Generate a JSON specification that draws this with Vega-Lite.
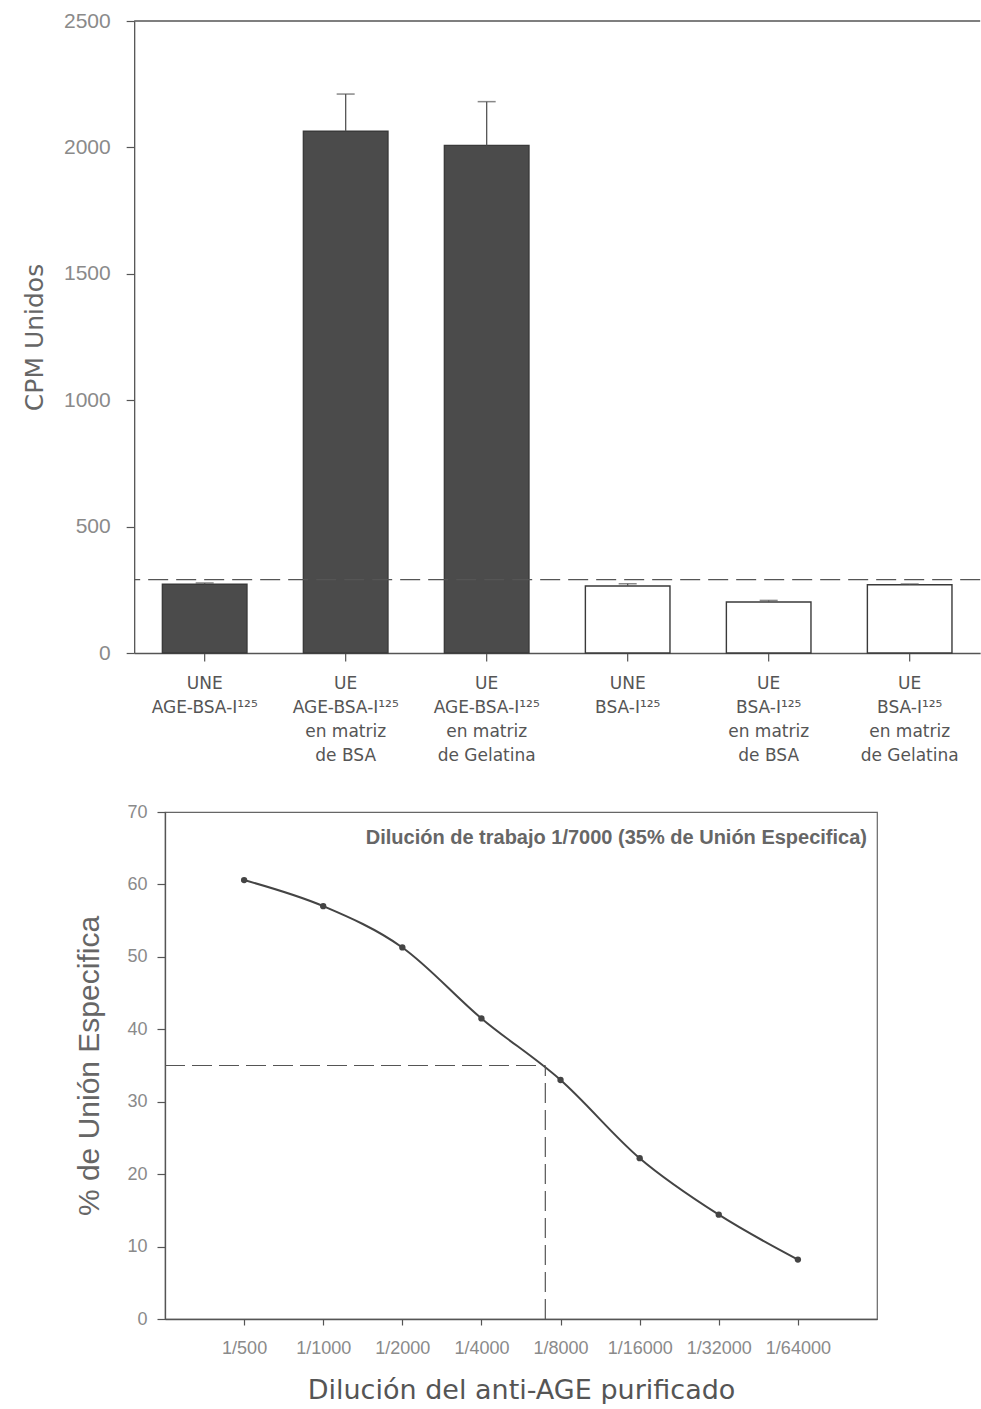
{
  "$schema": "https://vega.github.io/schema/vega-lite/v6.json",
  "background": "white",
  "padding": {"left": 22, "top": 10, "right": 0, "bottom": 0},
  "spacing": 39,
  "center": true,
  "config": {
    "font": "Liberation Sans",
    "view": {"stroke": null},
    "axis": {"grid": false, "domainColor": "#555", "tickColor": "#555", "domainWidth": 1.3, "tickWidth": 1.2}
  },
  "datasets": {
    "cpm": [
      {"grupo": "UNE|AGE-BSA-I¹²⁵", "tipo": "AGE-BSA", "cpm": 272, "cpm_sup": 277},
      {"grupo": "UE|AGE-BSA-I¹²⁵|en matriz|de BSA", "tipo": "AGE-BSA", "cpm": 2064, "cpm_sup": 2211},
      {"grupo": "UE|AGE-BSA-I¹²⁵|en matriz|de Gelatina", "tipo": "AGE-BSA", "cpm": 2008, "cpm_sup": 2181},
      {"grupo": "UNE|BSA-I¹²⁵", "tipo": "BSA", "cpm": 265, "cpm_sup": 274},
      {"grupo": "UE|BSA-I¹²⁵|en matriz|de BSA", "tipo": "BSA", "cpm": 202, "cpm_sup": 208},
      {"grupo": "UE|BSA-I¹²⁵|en matriz|de Gelatina", "tipo": "BSA", "cpm": 270, "cpm_sup": 273}
    ],
    "fondo": [{"cpm": 290}],
    "dilucion": [
      {"dil": 500, "pct": 60.6},
      {"dil": 1000, "pct": 57.0},
      {"dil": 2000, "pct": 51.3},
      {"dil": 4000, "pct": 41.5},
      {"dil": 8000, "pct": 33.0},
      {"dil": 16000, "pct": 22.2},
      {"dil": 32000, "pct": 14.4},
      {"dil": 64000, "pct": 8.2}
    ],
    "trabajo": [{"dil": 7000, "pct": 35, "desde": 250, "base": 0, "texto": "Dilución de trabajo 1/7000 (35% de Unión Especifica)"}],
    "vacio": [{"v": 0}]
  },
  "vconcat": [
    {
      "width": 846,
      "height": 632,
      "layer": [
        {
          "data": {"name": "cpm"},
          "mark": {"type": "bar", "stroke": "#3a3a3a", "strokeWidth": 1.4},
          "encoding": {
            "x": {
              "field": "grupo", "type": "nominal", "sort": null,
              "scale": {"paddingInner": 0.4, "paddingOuter": 0.2},
              "axis": {
                "title": null, "labelAngle": 0, "labelAlign": "center", "labelBaseline": "top",
                "labelExpr": "split(datum.label, '|')", "labelLineHeight": 24,
                "labelFont": "DejaVu Sans", "labelFontSize": 17, "labelColor": "#555",
                "labelPadding": 14, "tickSize": 8, "labelLimit": 0
              }
            },
            "y": {
              "field": "cpm", "type": "quantitative", "title": "CPM Unidos",
              "scale": {"domain": [0, 2500], "nice": false},
              "axis": {
                "values": [0, 500, 1000, 1500, 2000, 2500], "format": "d", "tickSize": 8,
                "labelFontSize": 21, "labelColor": "#8a8a8a", "labelPadding": 16,
                "titleFont": "DejaVu Sans", "titleFontSize": 25, "titleFontWeight": "normal",
                "titleColor": "#666", "titlePadding": 16
              }
            },
            "fill": {"field": "tipo", "type": "nominal", "scale": {"domain": ["AGE-BSA", "BSA"], "range": ["#4b4b4b", "#ffffff"]}, "legend": null}
          }
        },
        {
          "data": {"name": "cpm"},
          "mark": {"type": "rule", "color": "#555", "strokeWidth": 1.3},
          "encoding": {
            "x": {"field": "grupo", "type": "nominal", "sort": null},
            "y": {"field": "cpm", "type": "quantitative", "title": "CPM Unidos"},
            "y2": {"field": "cpm_sup"}
          }
        },
        {
          "data": {"name": "cpm"},
          "mark": {"type": "tick", "color": "#555", "size": 18, "thickness": 1.5},
          "encoding": {
            "x": {"field": "grupo", "type": "nominal", "sort": null},
            "y": {"field": "cpm_sup", "type": "quantitative", "title": "CPM Unidos"}
          }
        },
        {
          "data": {"name": "fondo"},
          "mark": {"type": "rule", "color": "#555", "strokeWidth": 1.2, "strokeDash": [20, 8]},
          "encoding": {"y": {"field": "cpm", "type": "quantitative", "title": "CPM Unidos"}}
        },
        {
          "data": {"name": "fondo"},
          "mark": {"type": "rule", "color": "#555", "strokeWidth": 1.3},
          "encoding": {"y": {"datum": 2500, "type": "quantitative"}}
        }
      ]
    },
    {
      "spacing": 0,
      "hconcat": [
        {
          "width": 712,
          "height": 507,
          "view": {"stroke": "#666", "strokeWidth": 1.2},
          "layer": [
            {
              "data": {"name": "dilucion"},
              "mark": {"type": "line", "color": "#444", "strokeWidth": 2, "interpolate": "monotone"},
              "encoding": {
                "x": {
                  "field": "dil", "type": "quantitative", "title": "Dilución del anti-AGE purificado",
                  "scale": {"type": "log", "base": 2, "domain": [250, 128000], "nice": false},
                  "axis": {
                    "values": [500, 1000, 2000, 4000, 8000, 16000, 32000, 64000],
                    "labelExpr": "'1/' + datum.value", "tickSize": 6,
                    "labelFontSize": 18, "labelColor": "#8a8a8a", "labelPadding": 14,
                    "titleFont": "DejaVu Sans", "titleFontSize": 27, "titleFontWeight": "normal",
                    "titleColor": "#555", "titlePadding": 20
                  }
                },
                "y": {
                  "field": "pct", "type": "quantitative", "title": "% de Unión Especifica",
                  "scale": {"domain": [0, 70], "nice": false},
                  "axis": {
                    "values": [0, 10, 20, 30, 40, 50, 60, 70], "tickSize": 8,
                    "labelFontSize": 18, "labelColor": "#8a8a8a", "labelPadding": 10,
                    "titleFont": "Liberation Sans", "titleFontSize": 30, "titleFontWeight": "normal",
                    "titleColor": "#666", "titlePadding": 22
                  }
                }
              }
            },
            {
              "data": {"name": "dilucion"},
              "mark": {"type": "point", "filled": true, "color": "#444", "size": 40, "opacity": 1},
              "encoding": {
                "x": {"field": "dil", "type": "quantitative"},
                "y": {"field": "pct", "type": "quantitative"}
              }
            },
            {
              "data": {"name": "trabajo"},
              "mark": {"type": "rule", "color": "#555", "strokeWidth": 1.2, "strokeDash": [20, 7]},
              "encoding": {
                "x": {"field": "desde", "type": "quantitative"},
                "x2": {"field": "dil"},
                "y": {"field": "pct", "type": "quantitative"}
              }
            },
            {
              "data": {"name": "trabajo"},
              "mark": {"type": "rule", "color": "#555", "strokeWidth": 1.2, "strokeDash": [20, 7]},
              "encoding": {
                "x": {"field": "dil", "type": "quantitative"},
                "y": {"field": "base", "type": "quantitative"},
                "y2": {"field": "pct"}
              }
            },
            {
              "data": {"name": "trabajo"},
              "mark": {"type": "text", "align": "right", "baseline": "middle", "dx": -10, "fontSize": 20, "fontWeight": "bold", "color": "#666"},
              "encoding": {
                "x": {"datum": 128000, "type": "quantitative"},
                "y": {"datum": 66.4, "type": "quantitative"},
                "text": {"field": "texto"}
              }
            }
          ]
        },
        {
          "width": 72,
          "height": 507,
          "data": {"name": "vacio"},
          "mark": {"type": "rule", "opacity": 0},
          "encoding": {"y": {"field": "v", "type": "quantitative", "axis": null}}
        }
      ]
    }
  ]
}
